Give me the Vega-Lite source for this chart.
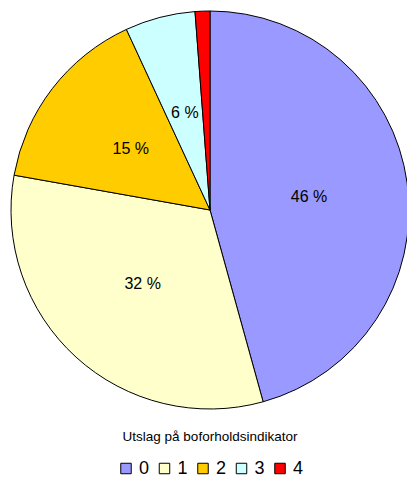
{
  "$schema": "https://vega.github.io/schema/vega-lite/v6.json",
  "autosize": {"type": "none"},
  "width": 394,
  "height": 420,
  "padding": {"left": 13, "top": 0, "right": 0, "bottom": 57},
  "background": "white",
  "config": {"view": {"stroke": null}, "font": "Liberation Sans", "legend": {"layout": {"bottom": {"anchor": "middle"}}}},
  "data": {"values": [
    {"cat": "0", "value": 45.7, "label": "46 %"},
    {"cat": "1", "value": 32.1, "label": "32 %"},
    {"cat": "2", "value": 15.3, "label": "15 %"},
    {"cat": "3", "value": 5.7, "label": "6 %"},
    {"cat": "4", "value": 1.2, "label": ""}
  ]},
  "encoding": {
    "theta": {"field": "value", "type": "quantitative", "stack": true},
    "order": {"field": "cat", "type": "ordinal"}
  },
  "layer": [
    {
      "mark": {"type": "arc", "outerRadius": 199, "stroke": "black", "strokeWidth": 1},
      "encoding": {
        "color": {
          "field": "cat", "type": "nominal",
          "scale": {"domain": ["0", "1", "2", "3", "4"], "range": ["#9999FF", "#FFFFCC", "#FFCC00", "#CCFFFF", "#FF0000"]},
          "legend": {
            "title": "Utslag på boforholdsindikator",
            "orient": "bottom",
            "direction": "horizontal",
            "titleOrient": "top",
            "titleAnchor": "middle",
            "titleFontSize": 13.5,
            "titleFontWeight": "normal",
            "titleColor": "black",
            "titlePadding": 16,
            "offset": 10,
            "symbolType": "square",
            "symbolSize": 110,
            "symbolStrokeColor": "black",
            "symbolStrokeWidth": 1,
            "symbolOpacity": 1,
            "labelFontSize": 18,
            "labelColor": "black",
            "labelOffset": 4,
            "columnPadding": 5.5
          }
        }
      }
    },
    {
      "mark": {"type": "text", "radius": 100, "fontSize": 16, "color": "black"},
      "encoding": {"text": {"field": "label", "type": "nominal"}}
    }
  ]
}
